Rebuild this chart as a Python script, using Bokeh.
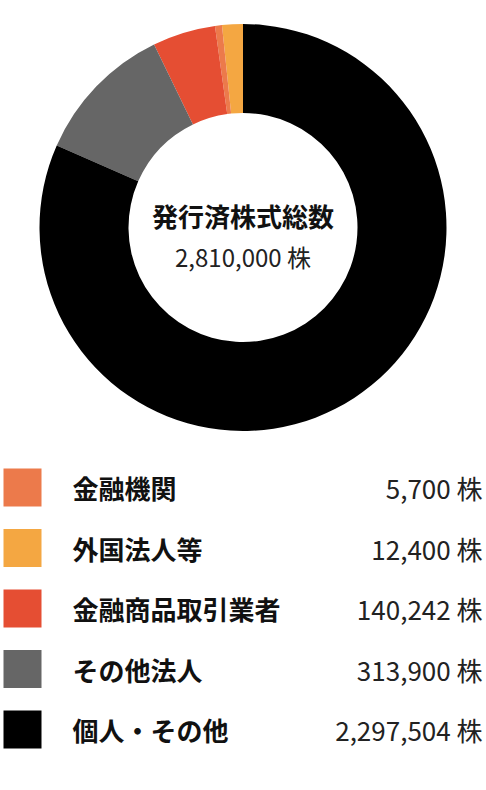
import math
from bokeh.plotting import figure
from bokeh.models import Range1d, ColumnDataSource
from bokeh.core.properties import value
from bokeh.embed import file_html
from bokeh.resources import INLINE

# ---- data ----
categories = ["金融機関", "外国法人等", "金融商品取引業者", "その他法人", "個人・その他"]
shares = [5700, 12400, 140242, 313900, 2297504]
# slice sizes (percent of ring)
slice_pct = [0.55, 1.65, 5.0, 11.2, 81.6]
colors = ["#EC7A4B", "#F4A742", "#E54E33", "#666666", "#000000"]
# drawing order of the ring, anticlockwise from 12 o'clock
ring_order = [1, 0, 2, 3, 4]
total_label = "2,810,000 株"
center_title = "発行済株式総数"

W, H = 486, 790
FONT = value("Noto Sans CJK JP")

p = figure(width=W, height=H, output_backend="svg", toolbar_location=None,
           x_range=Range1d(0, W), y_range=Range1d(0, H), min_border=0,
           outline_line_color=None, background_fill_color="white",
           border_fill_color="white")
p.axis.visible = False
p.grid.visible = False

def Y(y):
    return H - y

# ---- donut ----
cx, cy = 242.5, Y(227.0)
r_in, r_out = 114.5, 203.5
starts, ends, cols = [], [], []
a = math.pi / 2
tot = sum(slice_pct)
for i in ring_order:
    da = slice_pct[i] / tot * 2 * math.pi
    starts.append(a)
    ends.append(a + da)
    cols.append(colors[i])
    a += da
src = ColumnDataSource(dict(start=starts, end=ends, color=cols))
p.annular_wedge(x=cx, y=cy, inner_radius=r_in, outer_radius=r_out,
                start_angle="start", end_angle="end", fill_color="color",
                line_color=None, source=src)

p.text(x=[cx], y=[Y(215)], text=[center_title], text_font=FONT,
       text_font_style="bold", text_font_size="26px", text_align="center",
       text_baseline="middle", text_color="#111111")
p.text(x=[cx], y=[Y(256)], text=[total_label], text_font=FONT,
       text_font_size="24px", text_align="center",
       text_baseline="middle", text_color="#222222")

# ---- legend ----
row_y = [Y(487 + 60.5 * k) for k in range(len(categories))]
p.rect(x=[22] * len(categories), y=row_y, width=38, height=38,
       fill_color=colors, line_color=None)
p.text(x=[72] * len(categories), y=row_y, text=categories, text_font=FONT,
       text_font_style="bold", text_font_size="26px", text_align="left",
       text_baseline="middle", text_color="#111111")
p.text(x=[482] * len(categories), y=row_y,
       text=[f"{v:,} 株" for v in shares], text_font=FONT,
       text_font_size="26px", text_align="right",
       text_baseline="middle", text_color="#222222")

open("out.html", "w").write(file_html(p, INLINE))
